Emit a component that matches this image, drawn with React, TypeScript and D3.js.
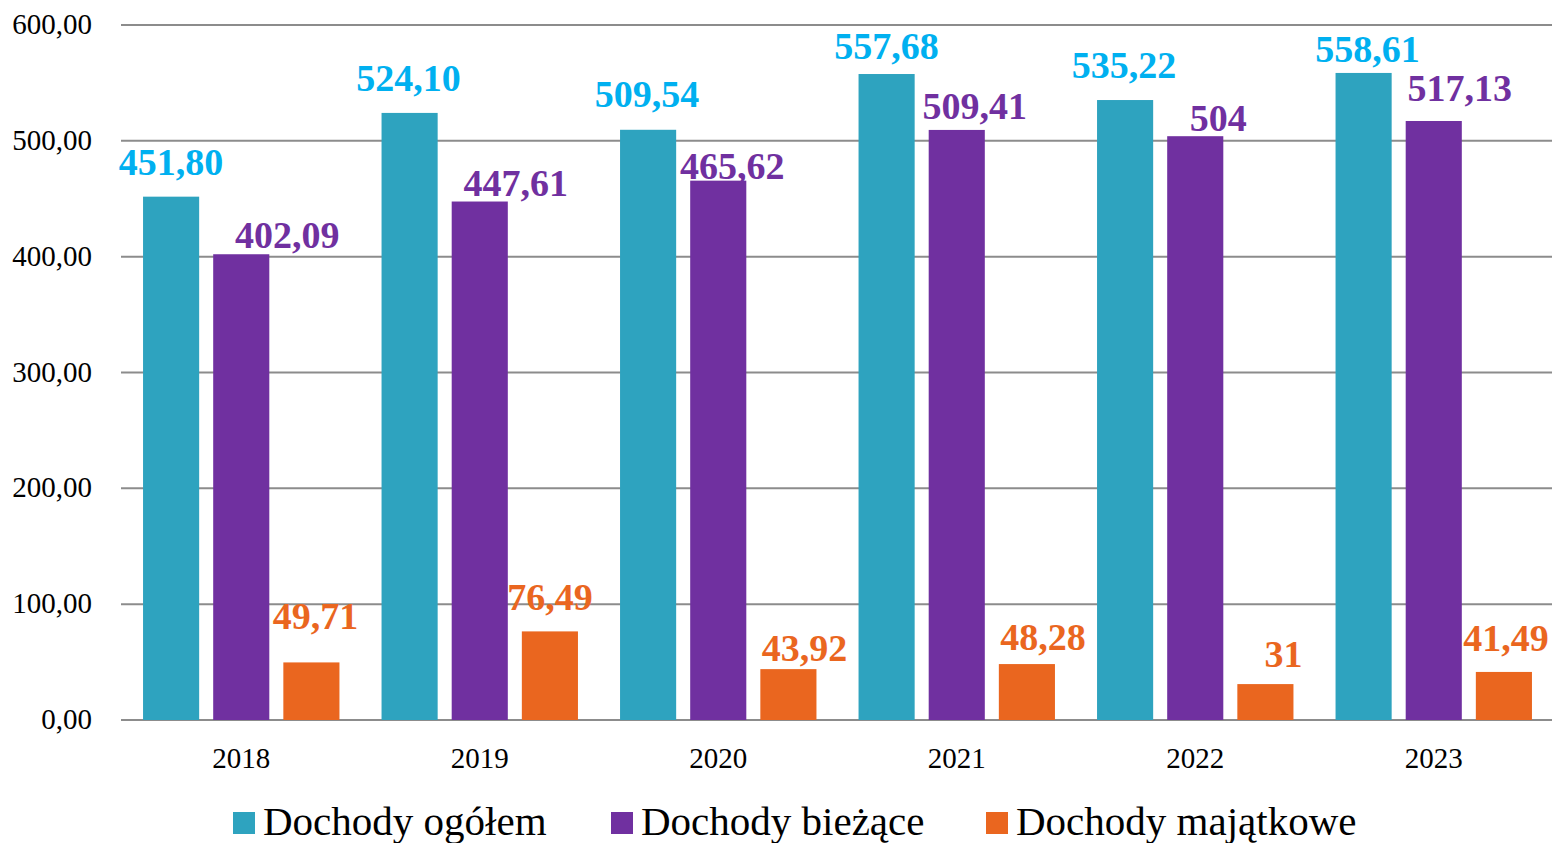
import { useEffect, useRef } from 'react';
import * as d3 from 'd3';

const years = ['2018', '2019', '2020', '2021', '2022', '2023'];
const ogolem = [451.8, 524.1, 509.54, 557.68, 535.22, 558.61];
const biezace = [402.09, 447.61, 465.62, 509.41, 504, 517.13];
const majatkowe = [49.71, 76.49, 43.92, 48.28, 31, 41.49];
const seriesNames = ['Dochody ogółem', 'Dochody bieżące', 'Dochody majątkowe'];
const yTicks = [0, 100, 200, 300, 400, 500, 600];

const barColors = ['#2ea3bf', '#7030a0', '#ea661f'];
const labelColors = ['#00b0f0', '#7030a0', '#ea661f'];

// hand-placed label nudges (px) relative to bar center / bar top, per series then year
const labelDx = [
  [0, -1, -1, 0, -1, 4],
  [46, 36, 14, 18, 23, 26],
  [4, 0, 16, 16, 18, 2],
];
const labelDy = [
  [-22, -22, -23, -15, -22, -11],
  [-6, -6, -2, -11, -5, -20],
  [-33, -21, -8, -14, -17, -21],
];

const fmt = (v: number) => (Number.isInteger(v) ? String(v) : v.toFixed(2).replace('.', ','));

export default function App() {
  const svgRef = useRef<SVGSVGElement>(null);

  useEffect(() => {
    document.body.style.margin = '0';
    if (!svgRef.current) return;
    const svg = d3.select(svgRef.current);
    svg.selectAll('*').remove();

    const width = 1552;
    const left = 121;
    const top = 25;
    const bottom = 720;
    const font = "'Liberation Serif', 'Times New Roman', serif";

    const x = d3.scaleBand().domain(years).range([left + 1, width + 1]);
    const xs = d3
      .scaleBand<number>()
      .domain([0, 1, 2])
      .range([0, x.bandwidth()])
      .paddingInner(0.2)
      .paddingOuter(0.3);
    const y = d3.scaleLinear().domain([0, 600]).range([bottom, top]);

    // gridlines
    svg
      .append('g')
      .selectAll('line')
      .data(yTicks)
      .enter()
      .append('line')
      .attr('x1', left)
      .attr('x2', width)
      .attr('y1', (d) => y(d))
      .attr('y2', (d) => y(d))
      .attr('stroke', '#8c8c8c')
      .attr('stroke-width', 2);

    svg
      .append('g')
      .selectAll('text')
      .data(yTicks)
      .enter()
      .append('text')
      .attr('x', 92)
      .attr('y', (d) => y(d) + 9)
      .attr('text-anchor', 'end')
      .style('font-family', font)
      .style('font-size', '29px')
      .attr('fill', '#000')
      .text((d) => d.toFixed(2).replace('.', ','));

    svg
      .append('g')
      .selectAll('text')
      .data(years)
      .enter()
      .append('text')
      .attr('x', (d) => (x(d) || 0) + x.bandwidth() / 2)
      .attr('y', 768)
      .attr('text-anchor', 'middle')
      .style('font-family', font)
      .style('font-size', '29px')
      .attr('fill', '#000')
      .text((d) => d);

    const series = [ogolem, biezace, majatkowe];
    series.forEach((vals, si) => {
      const g = svg.append('g');
      g.selectAll('rect')
        .data(vals)
        .enter()
        .append('rect')
        .attr('x', (_, i) => (x(years[i]) || 0) + (xs(si) || 0))
        .attr('y', (d) => y(d))
        .attr('width', xs.bandwidth())
        .attr('height', (d) => bottom - y(d))
        .attr('fill', barColors[si]);

      g.selectAll('text')
        .data(vals)
        .enter()
        .append('text')
        .attr('x', (_, i) => (x(years[i]) || 0) + (xs(si) || 0) + xs.bandwidth() / 2 + labelDx[si][i])
        .attr('y', (d, i) => y(d) + labelDy[si][i])
        .attr('text-anchor', 'middle')
        .style('font-family', font)
        .style('font-size', '38px')
        .style('font-weight', 'bold')
        .attr('fill', labelColors[si])
        .text((d) => fmt(d));
    });

    // legend
    const legendX = [233, 611, 986];
    const legend = svg
      .append('g')
      .selectAll('g')
      .data(seriesNames)
      .enter()
      .append('g')
      .attr('transform', (_, i) => `translate(${legendX[i]},812)`);
    legend
      .append('rect')
      .attr('width', 22)
      .attr('height', 22)
      .attr('fill', (_, i) => barColors[i]);
    legend
      .append('text')
      .attr('x', 30)
      .attr('y', 23)
      .style('font-family', font)
      .style('font-size', '41px')
      .attr('fill', '#000')
      .text((d) => d);
  }, []);

  return (
    <svg
      ref={svgRef}
      width={1552}
      height={843}
      style={{ position: 'absolute', left: 0, top: 0, background: '#fff' }}
    />
  );
}
